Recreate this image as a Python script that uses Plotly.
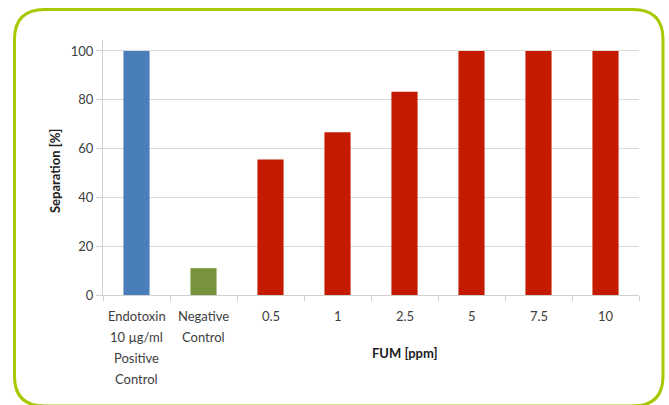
import plotly.graph_objects as go

# Chart data
categories = ["Endotoxin<br>10 µg/ml<br>Positive<br>Control", "Negative<br>Control",
              "0.5", "1", "2.5", "5", "7.5", "10"]
separation = [100, 11, 55.5, 66.7, 83.3, 100, 100, 100]
bar_colors = ["#4a7ebb", "#77933c", "#c41a00", "#c41a00", "#c41a00",
              "#c41a00", "#c41a00", "#c41a00"]
y_ticks = [0, 20, 40, 60, 80, 100]

W, H = 669, 405
L, R, T, B = 103, 30, 40, 110
pw, ph = W - L - R, H - T - B


def px(x):
    return (x - L) / pw


def py(y):
    return (H - B - y) / ph


# rounded frame around the chart
x0, x1, y0, y1, r = 14.5, 663, 9.5, 406, 30
pts = [
    ("M", [(x0 + r, y0)]),
    ("L", [(x1 - r, y0)]),
    ("Q", [(x1, y0), (x1, y0 + r)]),
    ("L", [(x1, y1 - r)]),
    ("Q", [(x1, y1), (x1 - r, y1)]),
    ("L", [(x0 + r, y1)]),
    ("Q", [(x0, y1), (x0, y1 - r)]),
    ("L", [(x0, y0 + r)]),
    ("Q", [(x0, y0), (x0 + r, y0)]),
]
path = " ".join(
    cmd + " " + " ".join(f"{px(a):.5f},{py(b):.5f}" for a, b in coords)
    for cmd, coords in pts
) + " Z"

font = dict(family="Lato, 'Open Sans', sans-serif", size=13, color="#404040")
title_font = dict(family=font["family"], size=13, color="#202020")

# category labels, one line at a time for wider line spacing
label_annotations = []
for idx, cat in enumerate(categories):
    for i, line in enumerate(cat.split("<br>")):
        label_annotations.append(dict(
            text=line, x=idx, xref="x", yref="paper", y=py(316 + 21 * i),
            xanchor="center", yanchor="middle", showarrow=False, font=font,
        ))

fig = go.Figure(go.Bar(
    x=categories, y=separation,
    marker=dict(color=bar_colors, line=dict(width=0)),
))

fig.update_layout(
    width=W, height=H,
    margin=dict(l=L, r=R, t=T, b=B),
    paper_bgcolor="white", plot_bgcolor="white",
    bargap=0.61,
    showlegend=False,
    font=font,
    shapes=[dict(type="path", xref="paper", yref="paper", path=path,
                 line=dict(color="#a9c800", width=3), layer="below")],
    annotations=label_annotations + [
        dict(text="<b>FUM [ppm]</b>", xref="paper", yref="paper",
             x=px(405), y=py(353), xanchor="center", yanchor="middle",
             showarrow=False, font=title_font),
        dict(text="<b>Separation [%]</b>", xref="paper", yref="paper",
             x=px(55), y=py(171), xanchor="center", yanchor="middle",
             textangle=-90, showarrow=False, font=title_font),
    ],
)
fig.update_yaxes(
    range=[0, 104.5], tickvals=y_ticks,
    showgrid=True, gridcolor="#d9d9d9", gridwidth=1,
    showline=True, linecolor="#d0d0d0", linewidth=1,
    ticks="outside", ticklen=6, tickcolor="#d0d0d0",
    zeroline=False, tickfont=font,
)
fig.update_xaxes(
    type="category",
    showline=True, linecolor="#d0d0d0", linewidth=1,
    ticks="outside", ticklen=5, tickcolor="#d0d0d0",
    tickson="boundaries", showticklabels=False,
)

fig.write_html("out.html")
